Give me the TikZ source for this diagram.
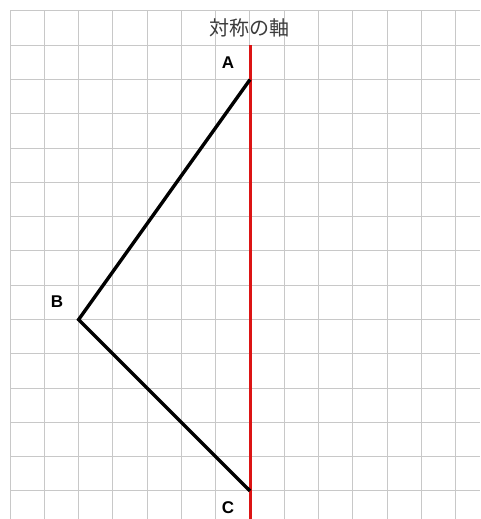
\documentclass[tikz,border=0pt]{standalone}
\usepackage{fontspec}
\setmainfont{Liberation Sans}
\newfontfamily\cjkfont{Noto Sans CJK JP}
\definecolor{gridgray}{RGB}{200,200,200}
\definecolor{axisred}{RGB}{220,20,20}
\definecolor{titlegray}{RGB}{60,60,60}
\begin{document}
\begin{tikzpicture}[x=1pt,y=-1pt,
  gridline/.style={draw=gridgray,line width=1pt},
  axisline/.style={draw=axisred,line width=3pt},
  edge/.style={draw=black,line width=3.4pt,line join=miter},
  ptlabel/.style={font=\fontsize{17}{17}\selectfont\bfseries,text=black,inner sep=0pt},
  titlelabel/.style={font=\cjkfont\fontsize{20}{20}\selectfont,text=titlegray,inner sep=0pt}]
\useasboundingbox (0,0) rectangle (480,519);
\fill[white] (0,0) rectangle (480,519);
\foreach \k in {0,...,13} {
  \draw[gridline] ({10+34.28*\k},11) -- ({10+34.28*\k},519);
}
\foreach \k in {0,...,14} {
  \draw[gridline] (10,{11+34.28*\k}) -- (480,{11+34.28*\k});
}
\coordinate (axtop) at (250,45.3);
\coordinate (axbot) at (250,519);
\coordinate (A) at (250,79.6);
\coordinate (B) at (78.6,319.6);
\coordinate (C) at (250,490.9);
\draw[axisline] (axtop) -- (axbot);
\draw[edge] (A) -- (B) -- (C);
\node[titlelabel] (title) at (249.5,27.5) {対称の軸};
\node[ptlabel] (la) at (228,63) {A};
\node[ptlabel] (lb) at (57,302) {B};
\node[ptlabel] (lc) at (228,508) {C};
\end{tikzpicture}
\end{document}
